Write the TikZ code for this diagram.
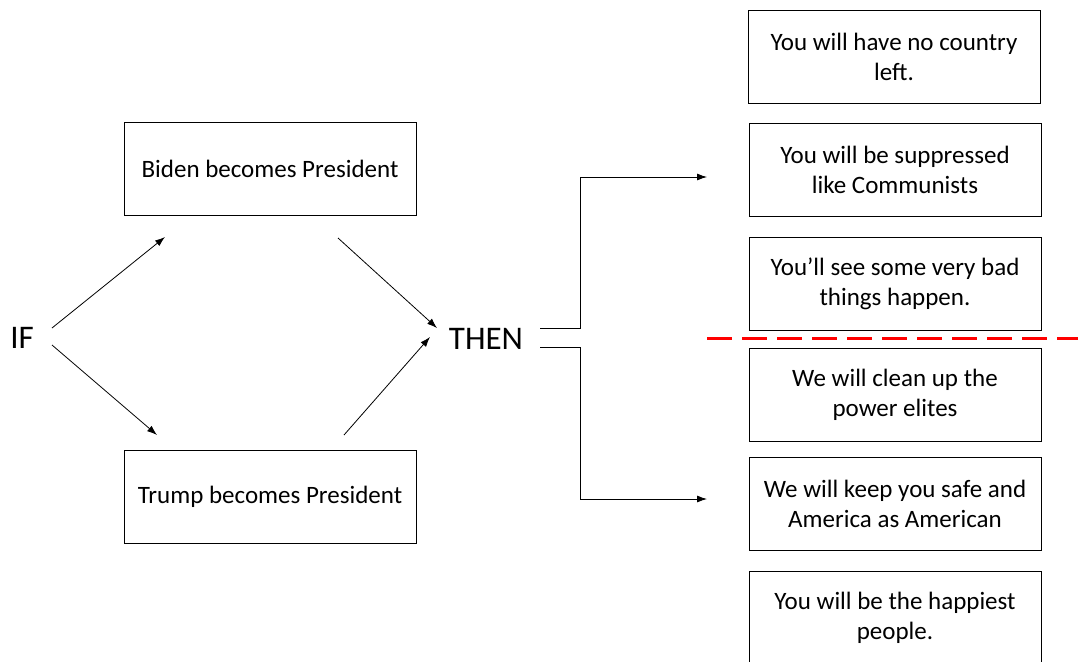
\documentclass[tikz,border=0pt]{standalone}
\usepackage{fontspec}
\setmainfont{Carlito}
\usetikzlibrary{arrows.meta}
\begin{document}
\begin{tikzpicture}
    [
    x=1pt, y=-1pt,
    outcome/.style={draw,line width=0.8pt,minimum width=292pt,minimum height=93pt,inner sep=0pt,align=center,font=\fontsize{25}{30}\selectfont},
    word/.style={inner sep=0pt,font=\fontsize{33}{38}\selectfont},
    link/.style={-{Latex[length=10pt,width=7pt]},line width=0.8pt}
    ]
    \useasboundingbox (0,0) rectangle (1078,661);
    \node (if) at (22,338) [word] {IF};
    \node (then) at (486,339) [word] {THEN};
    \node (biden) at (270,168.5) [outcome] {Biden becomes President};
    \node (trump) at (270,496.5) [outcome] {Trump becomes President};
    \node (o1) at (894,57) [outcome] {You will have no country\\left.};
    \node (o2) at (895,169.5) [outcome] {You will be suppressed\\like Communists};
    \node (o3) at (895,283.5) [outcome] {You’ll see some very bad\\things happen.};
    \node (o4) at (895,394.5) [outcome] {We will clean up the\\power elites};
    \node (o5) at (895,503.5) [outcome] {We will keep you safe and\\America as American};
    \node (o6) at (895,617.5) [outcome] {You will be the happiest\\people.};
    % free ends of the arrows
    \coordinate (ifup) at (52,328);
    \coordinate (ifdown) at (52,345);
    \coordinate (bidenin) at (165,237);
    \coordinate (trumpin) at (157,435);
    \coordinate (bidenout) at (338,238);
    \coordinate (trumpout) at (344,435);
    \coordinate (thenin1) at (437,328);
    \coordinate (thenin2) at (430,337);
    \coordinate (thenup) at (540,328);
    \coordinate (thendown) at (540,347);
    \coordinate (threat) at (707,177);
    \coordinate (promise) at (707,499);
    \coordinate (cutl) at (707,338);
    \coordinate (cutr) at (1078,338);
    \draw [link] (ifup) to (bidenin);
    \draw [link] (ifdown) to (trumpin);
    \draw [link] (bidenout) to (thenin1);
    \draw [link] (trumpout) to (thenin2);
    \draw [link] (thenup) -- ++(40,0) |- (threat);
    \draw [link] (thendown) -- ++(40,0) |- (promise);

    \draw [red, line width=3pt, dash pattern=on 25pt off 10pt] (cutl) -- (cutr);
  \end{tikzpicture}
\end{document}
